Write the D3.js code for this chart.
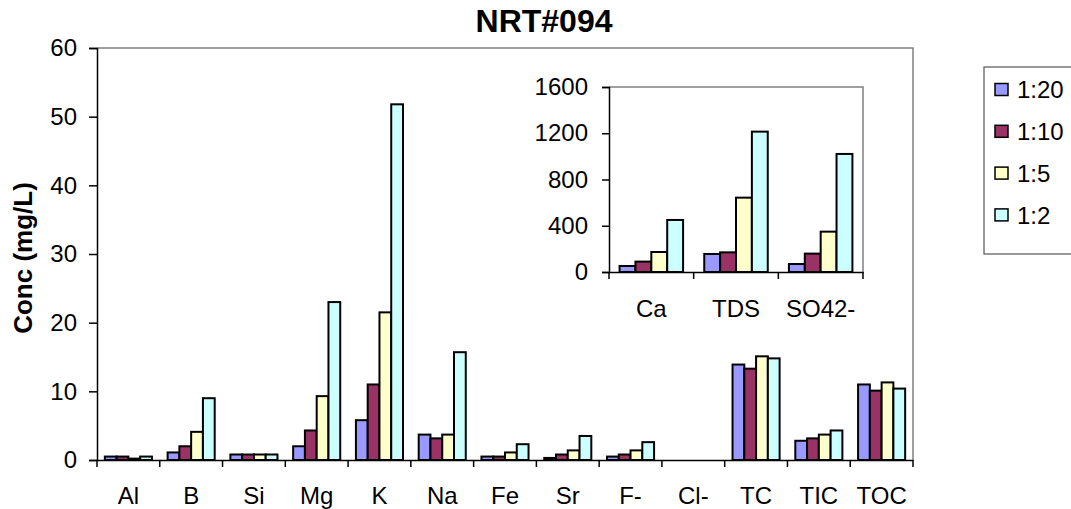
<!DOCTYPE html>
<html>
<head>
<meta charset="utf-8">
<script src="https://cdn.jsdelivr.net/npm/d3@7"></script>
<style>
  body { margin: 0; background: #fff; }
  svg text { font-family: "Liberation Sans", Arial, sans-serif; fill: #000; }
</style>
</head>
<body>
<div id="chart"></div>
<script>
// data
var series = ["1:20", "1:10", "1:5", "1:2"];
var colors = ["#9999ff", "#993366", "#ffffcc", "#ccffff"];

var mainCats = ["Al", "B", "Si", "Mg", "K", "Na", "Fe", "Sr", "F-", "Cl-", "TC", "TIC", "TOC"];
var main_1_20 = [0.5, 1.1, 0.8, 2.0, 5.8, 3.7, 0.5, 0.3, 0.5, 0, 13.9, 2.8, 11.0];
var main_1_10 = [0.5, 2.0, 0.8, 4.3, 11.0, 3.15, 0.5, 0.8, 0.8, 0, 13.3, 3.15, 10.1];
var main_1_5  = [0.2, 4.1, 0.8, 9.3, 21.5, 3.7, 1.1, 1.4, 1.4, 0, 15.1, 3.7, 11.3];
var main_1_2  = [0.5, 9.0, 0.8, 23.0, 51.8, 15.7, 2.3, 3.5, 2.6, 0, 14.8, 4.3, 10.4];
var mainTicks = [0, 10, 20, 30, 40, 50, 60];

var insetCats = ["Ca", "TDS", "SO42-"];
var inset_1_20 = [52, 156, 69];
var inset_1_10 = [90, 170, 159];
var inset_1_5  = [173, 643, 349];
var inset_1_2  = [450, 1214, 1021];
var insetTicks = [0, 400, 800, 1200, 1600];

var W = 1071, H = 509;

var svg = d3.select("#chart").append("svg")
    .attr("width", W)
    .attr("height", H);

// builds one bar panel (main chart and the inset use the same code)
function panel(cats, vals, ticks, box, pad) {
    var g = svg.append("g");
    var x = d3.scaleBand().domain(cats).range([box.x0, box.x1]);
    var y = d3.scaleLinear().domain([0, ticks[ticks.length - 1]]).range([box.yb, box.yt]);
    var sub = d3.scaleBand().domain(series)
        .range([0, x.bandwidth() * 0.75]);
    var off = (x.bandwidth() - x.bandwidth() * 0.75) / 2;

    // plot area
    g.append("rect")
        .attr("x", box.x0).attr("y", box.yt)
        .attr("width", box.x1 - box.x0).attr("height", box.yb - box.yt)
        .attr("fill", "#fff");
    g.append("path")
        .attr("d", "M" + box.x0 + "," + box.yt + "H" + box.x1 + "V" + box.yb)
        .attr("fill", "none").attr("stroke", "#808080").attr("stroke-width", 1.5);

    // bars
    var rows = cats.map(function(c, i) {
        return series.map(function(s, j) { return { cat: c, s: s, j: j, v: vals[j][i] }; });
    });
    g.selectAll(".grp").data(rows).enter().append("g")
        .attr("class", "grp")
        .selectAll("rect").data(function(d) { return d.filter(function(e) { return e.v > 0; }); })
        .enter().append("rect")
        .attr("x", function(d) { return x(d.cat) + off + sub(d.s); })
        .attr("y", function(d) { return y(d.v); })
        .attr("width", sub.bandwidth())
        .attr("height", function(d) { return y(0) - y(d.v); })
        .attr("fill", function(d) { return colors[d.j]; })
        .attr("stroke", "#000")
        .attr("stroke-width", 2);

    // y axis
    var ya = g.append("g")
        .attr("transform", "translate(" + box.x0 + ",0)")
        .call(d3.axisLeft(y).tickValues(ticks).tickSize(pad.ytick).tickPadding(pad.ypad).tickFormat(d3.format("d")));
    ya.selectAll("text").attr("font-size", 24).attr("font-family", "Liberation Sans, Arial, sans-serif");
    ya.select(".domain").attr("stroke", "#000").attr("stroke-width", 1.5);
    ya.selectAll(".tick line").attr("stroke-width", 1.5);

    // x axis: labels centred, ticks at the category borders
    var xa = g.append("g")
        .attr("transform", "translate(0," + box.yb + ")")
        .call(d3.axisBottom(x).tickSize(0).tickPadding(pad.xpad));
    xa.selectAll("text").attr("font-size", 24).attr("font-family", "Liberation Sans, Arial, sans-serif");
    xa.select(".domain").attr("stroke", "#000").attr("stroke-width", 1.5);
    var edges = cats.map(function(c) { return x(c); }).concat([box.x1]);
    g.selectAll(".xt" + box.x0).data(edges).enter().append("line")
        .attr("x1", function(d) { return d; }).attr("x2", function(d) { return d; })
        .attr("y1", box.yb).attr("y2", box.yb + 7)
        .attr("stroke", "#000").attr("stroke-width", 1.5);
}

panel(mainCats, [main_1_20, main_1_10, main_1_5, main_1_2], mainTicks,
    { x0: 97, x1: 913, yt: 48, yb: 460 }, { ytick: 8, ypad: 12, xpad: 27 });

panel(insetCats, [inset_1_20, inset_1_10, inset_1_5, inset_1_2], insetTicks,
    { x0: 609, x1: 863, yt: 87, yb: 272 }, { ytick: 7, ypad: 14, xpad: 28 });

// title
svg.append("text")
    .attr("x", 544).attr("y", 32)
    .attr("text-anchor", "middle")
    .attr("font-size", 32).attr("font-weight", "bold")
    .text("NRT#094");

// y title
svg.append("text")
    .attr("transform", "translate(32,258) rotate(-90)")
    .attr("text-anchor", "middle")
    .attr("font-size", 26).attr("font-weight", "bold")
    .text("Conc (mg/L)");

// legend
var leg = svg.append("g");
leg.append("rect")
    .attr("x", 984).attr("y", 67).attr("width", 120).attr("height", 187)
    .attr("fill", "#fff").attr("stroke", "#555").attr("stroke-width", 1.2);
var items = leg.selectAll(".li").data(series).enter().append("g")
    .attr("transform", function(d, i) { return "translate(0," + (89.5 + i * 41.8) + ")"; });
items.append("rect")
    .attr("x", 995).attr("y", -6).attr("width", 13).attr("height", 12)
    .attr("fill", function(d, i) { return colors[i]; })
    .attr("stroke", "#000").attr("stroke-width", 1.5);
items.append("text")
    .attr("x", 1017).attr("y", 8.6)
    .attr("font-size", 24)
    .text(function(d) { return d; });
</script>
</body>
</html>
